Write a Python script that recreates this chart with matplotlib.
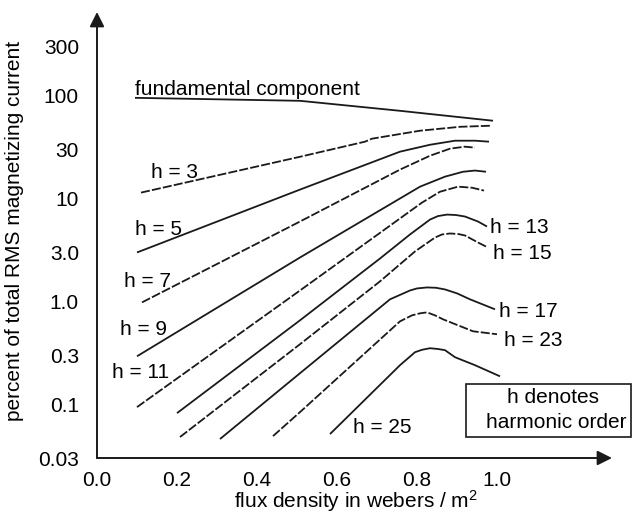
import numpy as np
import matplotlib
matplotlib.use("Agg")
import matplotlib.pyplot as plt
from matplotlib.patches import Rectangle

plt.rcParams['font.family'] = ['Liberation Sans', 'DejaVu Sans']
plt.rcParams['mathtext.fontset'] = 'custom'
plt.rcParams['mathtext.rm'] = 'Liberation Sans'
plt.rcParams['mathtext.it'] = 'Liberation Sans'

# flux density (Wb/m^2) and percent of total RMS magnetizing current
fund_x = [0.095, 0.5075, 0.7575, 0.99]
fund_y = [95.9, 89.7, 71.7, 57.4]

h3_x = [0.11, 0.5075, 0.67, 0.6875, 0.8075, 0.9075, 0.9825]
h3_y = [11.47, 25.6, 35.9, 38.4, 45.9, 50.1, 51.3]

h5_x = [0.1, 0.5075, 0.7575, 0.8325, 0.895, 0.945, 0.98]
h5_y = [3.0, 12.27, 28.7, 33.5, 36.7, 36.7, 35.9]

h7_x = [0.1125, 0.5075, 0.7575, 0.8325, 0.8825, 0.92, 0.945]
h7_y = [0.98, 6.0, 19.2, 26.2, 30.7, 32.1, 31.4]

h9_x = [0.1, 0.5075, 0.8075, 0.87, 0.915, 0.945, 0.9725]
h9_y = [0.293, 2.68, 13.1, 16.4, 18.3, 18.8, 18.3]

h11_x = [0.1, 0.5075, 0.8125, 0.8575, 0.9025, 0.9375, 0.9675]
h11_y = [0.0938, 1.28, 9.17, 11.7, 13.1, 12.8, 12.0]

h13_x = [0.2, 0.5075, 0.7075, 0.7825, 0.8325, 0.8525, 0.875, 0.8975, 0.92,
         0.9525, 0.975]
h13_y = [0.082, 0.656, 2.62, 4.49, 6.27, 6.78, 7.01, 6.94, 6.71, 6.0, 5.36]

h15_x = [0.2075, 0.5075, 0.7075, 0.795, 0.845, 0.8625, 0.8825, 0.9025, 0.92,
         0.9525, 0.9775]
h15_y = [0.048, 0.384, 1.57, 3.07, 4.19, 4.49, 4.59, 4.54, 4.39, 3.75, 3.35]

h17_x = [0.3075, 0.5075, 0.7325, 0.7825, 0.80, 0.825, 0.8475, 0.87, 0.9,
         0.9325, 0.995]
h17_y = [0.0459, 0.2005, 1.05, 1.28, 1.34, 1.37, 1.36, 1.31, 1.20, 1.05, 0.839]

h23_x = [0.44, 0.5075, 0.7575, 0.7875, 0.8075, 0.825, 0.845, 0.865, 0.94, 1.0]
h23_y = [0.049, 0.0839, 0.641, 0.733, 0.767, 0.784, 0.733, 0.671, 0.513, 0.48]

h25_x = [0.5825, 0.7575, 0.795, 0.8125, 0.8325, 0.8525, 0.87, 0.895, 0.945,
         1.0075]
h25_y = [0.0513, 0.24, 0.321, 0.339, 0.351, 0.345, 0.336, 0.287, 0.24, 0.187]

x_ticks = [0.0, 0.2, 0.4, 0.6, 0.8, 1.0]
x_labels = ['0.0', '0.2', '0.4', '0.6', '0.8', '1.0']
y_ticks = [0.03, 0.1, 0.3, 1.0, 3.0, 10, 30, 100, 300]
y_labels = ['0.03', '0.1', '0.3', '1.0', '3.0', '10', '30', '100', '300']

W, H = 633, 517
FS = 15


def px(x, y):
    return x / W, 1 - y / H


fig = plt.figure(figsize=(W / 100, H / 100), dpi=100)
ax = fig.add_axes([97 / W, 1 - 458 / H, (612 - 97) / W, (458 - 12) / H])
ax.set_yscale('log')
ax.set_xlim(0, 1.2875)
ax.set_ylim(0.03, 10 ** (np.log10(300) + 35 / 103))

solid = dict(color='#1a1a1a', lw=1.3, solid_capstyle='butt',
             solid_joinstyle='round')
dashed = dict(color='#1a1a1a', lw=1.3, dashes=(5, 1.2))

ax.plot(fund_x, fund_y, **solid)
ax.plot(h3_x, h3_y, **dashed)
ax.plot(h5_x, h5_y, **solid)
ax.plot(h7_x, h7_y, **dashed)
ax.plot(h9_x, h9_y, **solid)
ax.plot(h11_x, h11_y, **dashed)
ax.plot(h13_x, h13_y, **solid)
ax.plot(h15_x, h15_y, **dashed)
ax.plot(h17_x, h17_y, **solid)
ax.plot(h23_x, h23_y, **dashed)
ax.plot(h25_x, h25_y, **solid)

for s in ax.spines.values():
    s.set_visible(False)
ax.annotate('', xy=(1, 0), xytext=(0, 0), xycoords='axes fraction',
            arrowprops=dict(arrowstyle='-|>', color='#1a1a1a', lw=1.4,
                            mutation_scale=22, shrinkA=0, shrinkB=0))
ax.annotate('', xy=(0, 1), xytext=(0, 0), xycoords='axes fraction',
            arrowprops=dict(arrowstyle='-|>', color='#1a1a1a', lw=1.4,
                            mutation_scale=22, shrinkA=0, shrinkB=0))

ax.set_xticks(x_ticks)
ax.set_xticklabels(x_labels, fontsize=FS)
ax.set_yticks(y_ticks)
ax.set_yticklabels(y_labels, fontsize=FS)
ax.yaxis.set_minor_locator(matplotlib.ticker.NullLocator())
ax.tick_params(axis='both', length=0)
ax.tick_params(axis='y', pad=13)
ax.tick_params(axis='x', pad=9)

fig.text(*px(15, 231), 'percent of total RMS magnetizing current', rotation=90,
         ha='center', va='center', fontsize=FS)
fig.text(*px(356, 508), 'flux density in webers / m$^2$', ha='center',
         va='baseline', fontsize=FS)

fig.text(*px(135, 95), 'fundamental component', fontsize=FS, va='baseline')
labels = [('h = 3', 151, 178), ('h = 5', 135, 235), ('h = 7', 124, 287),
          ('h = 9', 120, 335), ('h = 11', 112, 378), ('h = 13', 490, 233),
          ('h = 15', 493, 259), ('h = 17', 499, 317), ('h = 23', 504, 346),
          ('h = 25', 353, 433)]
for t, x, y in labels:
    fig.text(*px(x, y), t, fontsize=FS, va='baseline')

fig.add_artist(Rectangle(px(466, 437), (631 - 466) / W, (437 - 384) / H,
                         transform=fig.transFigure, fill=False,
                         edgecolor='#1a1a1a', lw=1.2))
fig.text(*px(553, 403), 'h denotes', fontsize=FS, ha='center', va='baseline')
fig.text(*px(556, 428), 'harmonic order', fontsize=FS, ha='center', va='baseline')

fig.savefig('out.png', dpi=100)
